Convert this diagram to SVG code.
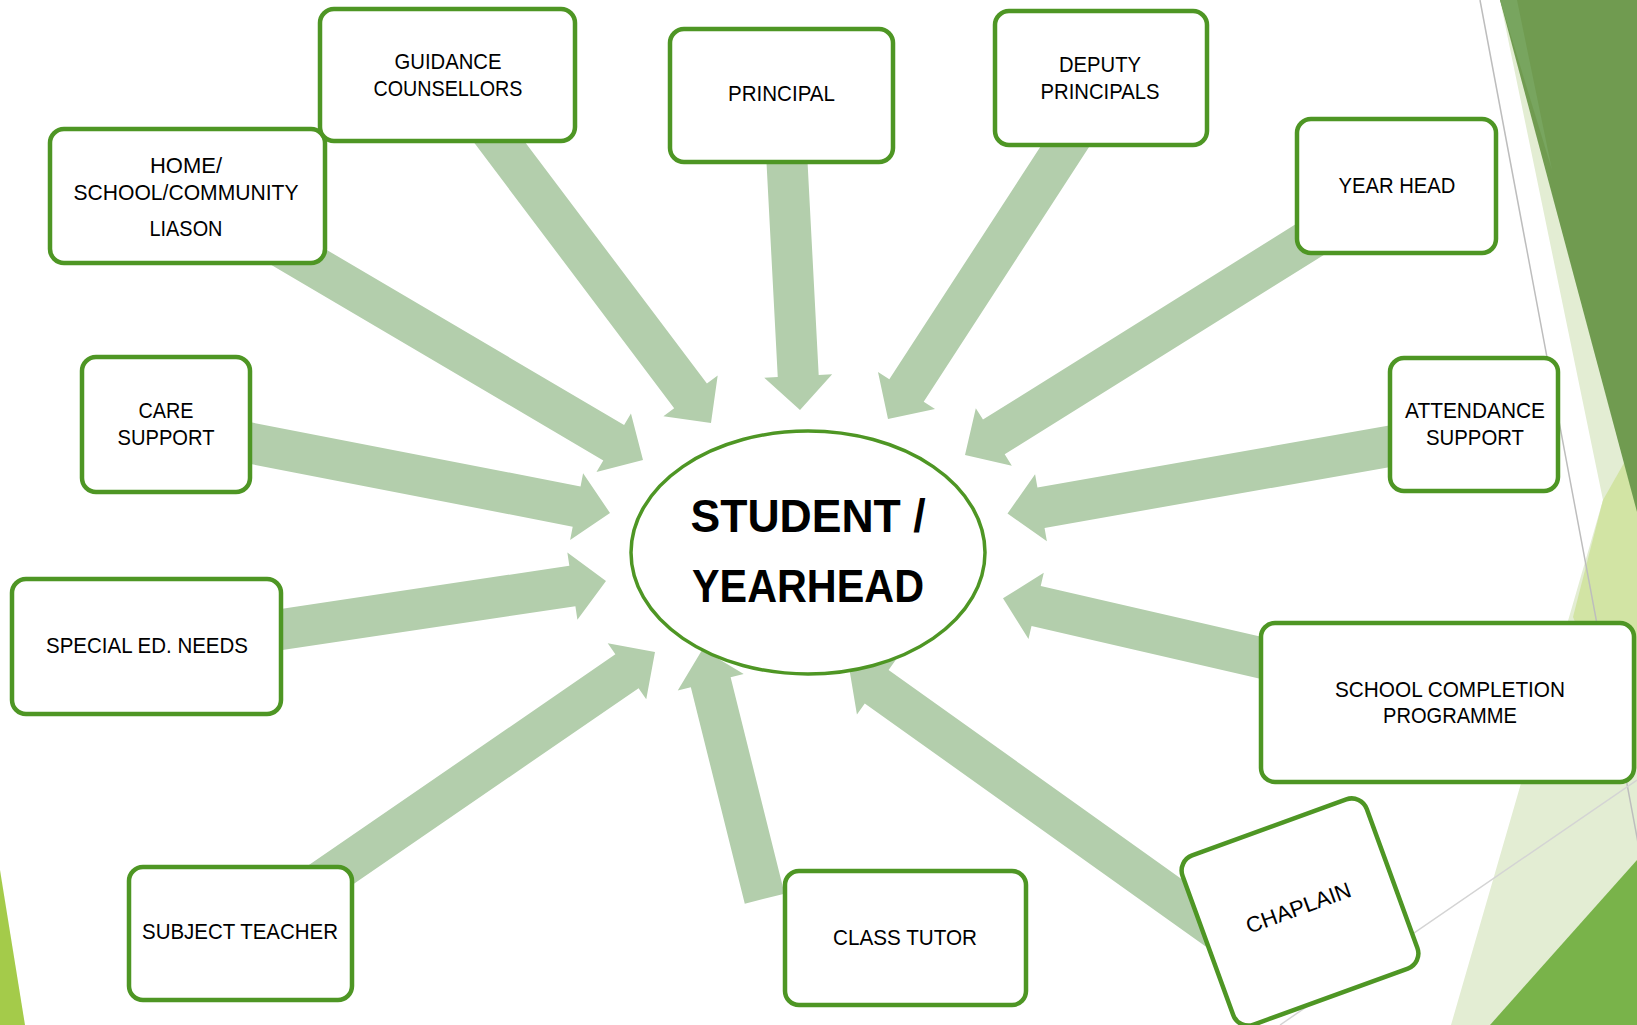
<svg xmlns="http://www.w3.org/2000/svg" width="1637" height="1025" viewBox="0 0 1637 1025">
<style>
.bx{fill:#fff;stroke:#4e9624;stroke-width:4.5}
.arr{fill:#b3ceac}
.t{font-family:"Liberation Sans",Arial,sans-serif;font-size:22px;fill:#000;text-anchor:middle}
.tb{font-family:"Liberation Sans",Arial,sans-serif;font-size:46px;font-weight:bold;fill:#000;text-anchor:middle}
</style>
<rect width="1637" height="1025" fill="#fff"/>
<g id="decor">
<polygon points="1500,0 1637,0 1637,1025 1451,1025 1603,500" fill="#e3edd3"/>
<polygon points="1603,500 1637,440 1637,770 1573,617" fill="#d2e4a4"/>
<polygon points="1500,0 1637,0 1637,512" fill="#709b50"/>
<polygon points="1500,0 1517,0 1552,170" fill="#78a55f"/>
<polygon points="1490,1025 1637,860 1637,1025" fill="#79b34a"/>
<line x1="1480" y1="0" x2="1645" y2="880" stroke="#bdbdbd" stroke-width="1.5"/>
<line x1="1637" y1="780" x2="1280" y2="1025" stroke="#d4d4d4" stroke-width="1.5"/>
<polygon points="0,870 25,1025 0,1025" fill="#a4cb4a"/>
</g>
<g id="connectors">
<polygon class="arr" transform="translate(711,423) rotate(53)" points="-370,-20.5 -34,-20.5 -34,-34 0,0 -34,34 -34,20.5 -370,20.5"/>
<polygon class="arr" transform="translate(643,460) rotate(30.5)" points="-440,-20.5 -34,-20.5 -34,-34 0,0 -34,34 -34,20.5 -440,20.5"/>
<polygon class="arr" transform="translate(800,410) rotate(87)" points="-265,-20.5 -34,-20.5 -34,-34 0,0 -34,34 -34,20.5 -265,20.5"/>
<polygon class="arr" transform="translate(888,419) rotate(123)" points="-345,-20.5 -34,-20.5 -34,-34 0,0 -34,34 -34,20.5 -345,20.5"/>
<polygon class="arr" transform="translate(965,455) rotate(148)" points="-420,-20.5 -34,-20.5 -34,-34 0,0 -34,34 -34,20.5 -420,20.5"/>
<polygon class="arr" transform="translate(610,513) rotate(11)" points="-400,-20.5 -34,-20.5 -34,-34 0,0 -34,34 -34,20.5 -400,20.5"/>
<polygon class="arr" transform="translate(606,581) rotate(-8.5)" points="-400,-20.5 -34,-20.5 -34,-34 0,0 -34,34 -34,20.5 -400,20.5"/>
<polygon class="arr" transform="translate(655,652) rotate(-34.5)" points="-420,-20.5 -34,-20.5 -34,-34 0,0 -34,34 -34,20.5 -420,20.5"/>
<polygon class="arr" transform="translate(702.5,649.3) rotate(-104)" points="-257,-20.5 -34,-20.5 -34,-34 0,0 -34,34 -34,20.5 -257,20.5"/>
<polygon class="arr" transform="translate(849,667) rotate(-144.5)" points="-470,-20.5 -34,-20.5 -34,-34 0,0 -34,34 -34,20.5 -470,20.5"/>
<polygon class="arr" transform="translate(1003,598.3) rotate(-167)" points="-320,-20.5 -34,-20.5 -34,-34 0,0 -34,34 -34,20.5 -320,20.5"/>
<polygon class="arr" transform="translate(1007.5,513.6) rotate(170)" points="-440,-20.5 -34,-20.5 -34,-34 0,0 -34,34 -34,20.5 -440,20.5"/>
</g>
<g id="center">
<ellipse cx="808" cy="552.5" rx="177" ry="121.5" fill="#fff" stroke="#4e9624" stroke-width="3.5"/>
<text class="tb" x="808" y="532" textLength="235" lengthAdjust="spacingAndGlyphs">STUDENT /</text>
<text class="tb" x="808" y="602" textLength="232" lengthAdjust="spacingAndGlyphs">YEARHEAD</text>
</g>
<g id="home">
<rect class="bx" x="50" y="129" width="275" height="134" rx="14"/>
<text class="t" x="186" y="172.5" textLength="72" lengthAdjust="spacingAndGlyphs">HOME/</text>
<text class="t" x="186" y="200" textLength="225" lengthAdjust="spacingAndGlyphs">SCHOOL/COMMUNITY</text>
<text class="t" x="186" y="236" textLength="73" lengthAdjust="spacingAndGlyphs">LIASON</text>
</g>
<g id="guidance">
<rect class="bx" x="320" y="9" width="255" height="132" rx="14"/>
<text class="t" x="448" y="69" textLength="107" lengthAdjust="spacingAndGlyphs">GUIDANCE</text>
<text class="t" x="448" y="96" textLength="149" lengthAdjust="spacingAndGlyphs">COUNSELLORS</text>
</g>
<g id="principal">
<rect class="bx" x="670" y="29" width="223" height="133" rx="14"/>
<text class="t" x="781.5" y="101" textLength="107" lengthAdjust="spacingAndGlyphs">PRINCIPAL</text>
</g>
<g id="deputy">
<rect class="bx" x="995" y="11" width="212" height="134" rx="14"/>
<text class="t" x="1100" y="71.5" textLength="82" lengthAdjust="spacingAndGlyphs">DEPUTY</text>
<text class="t" x="1100" y="99" textLength="119" lengthAdjust="spacingAndGlyphs">PRINCIPALS</text>
</g>
<g id="yearhead">
<rect class="bx" x="1297" y="119" width="199" height="134" rx="14"/>
<text class="t" x="1397" y="192.5" textLength="117" lengthAdjust="spacingAndGlyphs">YEAR HEAD</text>
</g>
<g id="care">
<rect class="bx" x="82" y="357" width="168" height="135" rx="14"/>
<text class="t" x="166" y="418" textLength="55" lengthAdjust="spacingAndGlyphs">CARE</text>
<text class="t" x="166" y="445" textLength="97" lengthAdjust="spacingAndGlyphs">SUPPORT</text>
</g>
<g id="attendance">
<rect class="bx" x="1390" y="358" width="168" height="133" rx="14"/>
<text class="t" x="1475" y="418" textLength="140" lengthAdjust="spacingAndGlyphs">ATTENDANCE</text>
<text class="t" x="1475" y="445" textLength="98" lengthAdjust="spacingAndGlyphs">SUPPORT</text>
</g>
<g id="special">
<rect class="bx" x="12" y="579" width="269" height="135" rx="14"/>
<text class="t" x="147" y="653" textLength="202" lengthAdjust="spacingAndGlyphs">SPECIAL ED. NEEDS</text>
</g>
<g id="scp">
<rect class="bx" x="1261" y="623" width="373" height="159" rx="14"/>
<text class="t" x="1450" y="697" textLength="230" lengthAdjust="spacingAndGlyphs">SCHOOL COMPLETION</text>
<text class="t" x="1450" y="723" textLength="134" lengthAdjust="spacingAndGlyphs">PROGRAMME</text>
</g>
<g id="subject">
<rect class="bx" x="129" y="867" width="223" height="133" rx="14"/>
<text class="t" x="240" y="939" textLength="196" lengthAdjust="spacingAndGlyphs">SUBJECT TEACHER</text>
</g>
<g id="classtutor">
<rect class="bx" x="785" y="871" width="241" height="134" rx="14"/>
<text class="t" x="905" y="945" textLength="144" lengthAdjust="spacingAndGlyphs">CLASS TUTOR</text>
</g>
<g id="chaplain" transform="translate(1300,912) rotate(-20)">
<rect class="bx" x="-98" y="-90" width="196" height="180" rx="16"/>
<text class="t" x="0" y="3" textLength="110" lengthAdjust="spacingAndGlyphs">CHAPLAIN</text>
</g>
</svg>
